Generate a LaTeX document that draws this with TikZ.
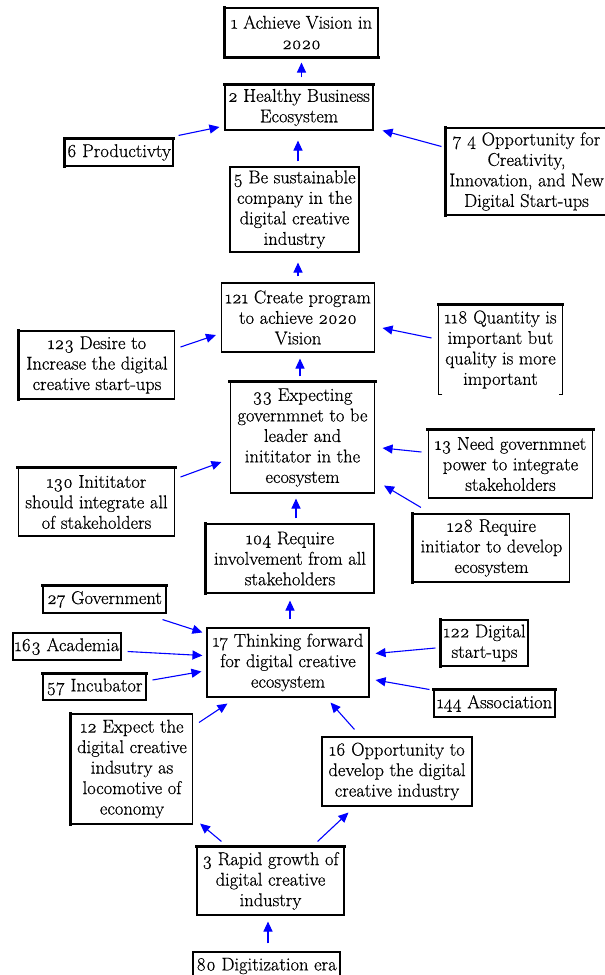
\documentclass[tikz,border=0pt]{standalone}
\usepackage{fontspec}
\setmainfont{Latin Modern Roman}[Numbers=OldStyle, FakeBold=0.5]
\usetikzlibrary{arrows.meta,calc}
\begin{document}
\begin{tikzpicture}[x=1pt,y=-1pt,
  box/.style={draw=black, line width=1.1pt, align=center, inner sep=0pt,
    font=\fontsize{18.5}{20.5}\selectfont, text=black},
  nobox/.style={box, draw=none},
  heavy/.style={line width=3pt, line cap=rect, black},
  arr/.style={blue, line width=1.1pt, -{Triangle[length=10pt,width=9pt]}}]
\useasboundingbox[fill=white] (0,0) rectangle (605,975);

\node[box, minimum width=153, minimum height=49] (n1) at (301.5,32.5) {1 Achieve Vision in\\2020};
\node[box, minimum width=148, minimum height=45] (n2) at (299,107.5) {2 Healthy Business\\Ecosystem};
\node[box, minimum width=108, minimum height=27] (n6) at (119,152.5) {6 Productivty};
\node[box, minimum width=161, minimum height=87] (n7) at (526.5,171.5) {7 4 Opportunity for\\Creativity,\\Innovation, and New\\Digital Start-ups};
\node[box, minimum width=129, minimum height=85] (n5) at (294.5,209.5) {5 Be sustainable\\company in the\\digital creative\\industry};
\node[box, minimum width=153, minimum height=69] (n121) at (298,317.5) {121 Create program\\to achieve 2020\\Vision};
\node[box, minimum width=155, minimum height=68] (n123) at (97,365) {123 Desire to\\Increase the digital\\creative start-ups};
\node[nobox, minimum width=123, minimum height=89] (n118) at (500.5,349.5) {118 Quantity is\\important but\\quality is more\\important};
\node[box, minimum width=144, minimum height=111] (n33) at (302.5,437.5) {33 Expecting\\governmnet to be\\leader and\\inititator in the\\ecosystem};
\node[box, minimum width=164, minimum height=68] (n13) at (510.5,464) {13 Need governmnet\\power to integrate\\stakeholders};
\node[box, minimum width=156, minimum height=68] (n130) at (96.5,502) {130 Inititator\\should integrate all\\of stakeholders};
\node[box, minimum width=156, minimum height=68] (n128) at (491.5,548) {128 Require\\initiator to develop\\ecosystem};
\node[box, minimum width=168, minimum height=69] (n104) at (290,558.5) {104 Require\\involvement from all\\stakeholders};
\node[box, minimum width=123, minimum height=27] (n27) at (104.5,599.5) {27 Government};
\node[box, minimum width=108, minimum height=27] (n163) at (67,646.5) {163 Academia};
\node[box, minimum width=103, minimum height=26] (n57) at (94.5,687) {57 Incubator};
\node[box, minimum width=162, minimum height=69] (n17) at (288,662.5) {17 Thinking forward\\for digital creative\\ecosystem};
\node[box, minimum width=87, minimum height=46] (n122) at (484.5,643) {122 Digital\\start-ups};
\node[box, minimum width=121, minimum height=27] (n144) at (494.5,703.5) {144 Association};
\node[box, minimum width=121, minimum height=110] (n12) at (132,769) {12 Expect the\\digital creative\\indsutry as\\locomotive of\\economy};
\node[box, minimum width=150, minimum height=69] (n16) at (397,771.5) {16 Opportunity to\\develop the digital\\creative industry};
\node[box, minimum width=147, minimum height=68] (n3) at (270.5,881) {3 Rapid growth of\\digital creative\\industry};
\node[box, minimum width=147, minimum height=28] (n80) at (266.5,966) {80 Digitization era};

% open-bottom frame of node 118
\draw[line width=1.1pt] ($(n118.south west)+(4,0)$) -- (n118.south west) -- (n118.north west) -- (n118.north east) -- (n118.south east) -- ++(-4,0);

% heavier edges
\draw[heavy] (n1.north west) -- (n1.south west) -- (n1.south east);
\draw[heavy] (n2.north west) -- (n2.north east);
\draw[heavy] (n6.south west) -- (n6.north west) -- (n6.north east);
\draw[heavy] (n7.north west) -- (n7.south west);
\draw[heavy] (n123.north west) -- (n123.south west);
\draw[heavy] (n118.north west) -- (n118.north east);
\draw[heavy] (n33.north west) -- (n33.north east);
\draw[heavy] (n13.north west) -- (n13.north east);
\draw[heavy] (n130.north west) -- (n130.north east);
\draw[heavy] (n104.north west) -- (n104.south west);
\draw[heavy] (n128.north west) -- (n128.south west);
\draw[heavy] (n27.north west) -- (n27.north east);
\draw[heavy] (n57.north west) -- (n57.north east);
\draw[heavy] (n122.north west) -- (n122.south west);
\draw[heavy] (n144.north west) -- (n144.north east);
\draw[heavy] (n12.north west) -- (n12.south west);
\draw[heavy] (n3.north west) -- (n3.north east);

% connectors
\draw[arr] ($(n2.north)+(2.5,-7)$) -- ($(n1.south)+(0,5)$);
\draw[arr] ($(n6.north east)+(5,-3)$) -- ($(n2.west)+(-5,19.5)$);
\draw[arr] ($(n7.west)+(-4,-25)$) -- ($(n2.east)+(9,23)$);
\draw[arr] ($(n5.north)+(3.5,-5)$) -- ($(n2.south)+(-1,10)$);
\draw[arr] ($(n121.north)+(0,-6)$) -- ($(n5.south)+(3.5,10)$);
\draw[arr] ($(n123.east)+(5.5,-18)$) -- ($(n121.west)+(-5,17.5)$);
\draw[arr] ($(n118.west)+(-7,-11.5)$) -- ($(n121.east)+(7.5,10.5)$);
\draw[arr] ($(n33.north)+(-2.5,-5)$) -- ($(n121.south)+(2,6)$);
\draw[arr] ($(n13.west)+(-6.5,-12)$) -- ($(n33.east)+(7.5,10.5)$);
\draw[arr] ($(n130.east)+(5.5,-25)$) -- ($(n33.west)+(-8.5,24.5)$);
\draw[arr] ($(n128.north west)+(8,-6)$) -- ($(n33.south east)+(9,-8)$);
\draw[arr] ($(n104.north)+(6,-5)$) -- ($(n33.south)+(-6.5,5)$);
\draw[arr] ($(n17.north)+(2,-8)$) -- ($(n104.south)+(0,7)$);
\draw[arr] ($(n27.south east)+(-4,6)$) -- ($(n17.north west)+(-4,5)$);
\draw[arr] ($(n163.east)+(6,5)$) -- ($(n17.west)+(-4,-7)$);
\draw[arr] ($(n57.east)+(6,-7)$) -- ($(n17.west)+(-5,9)$);
\draw[arr] ($(n122.west)+(-5,5)$) -- ($(n17.east)+(6,-9)$);
\draw[arr] ($(n144.west)+(-4,-14)$) -- ($(n17.east)+(6,17.5)$);
\draw[arr] ($(n12.north east)+(6,9)$) -- ($(n17.south west)+(21,6)$);
\draw[arr] ($(n16.north west)+(33,-7)$) -- ($(n17.south east)+(-39,5)$);
\draw[arr] ($(n3.north west)+(25,-5)$) -- ($(n12.south east)+(7,-1)$);
\draw[arr] ($(n3.north east)+(-27,-5)$) -- ($(n16.south west)+(27,6)$);
\draw[arr] ($(n80.north)+(1.5,-8)$) -- ($(n3.south)+(-2.5,6)$);
\end{tikzpicture}
\end{document}
